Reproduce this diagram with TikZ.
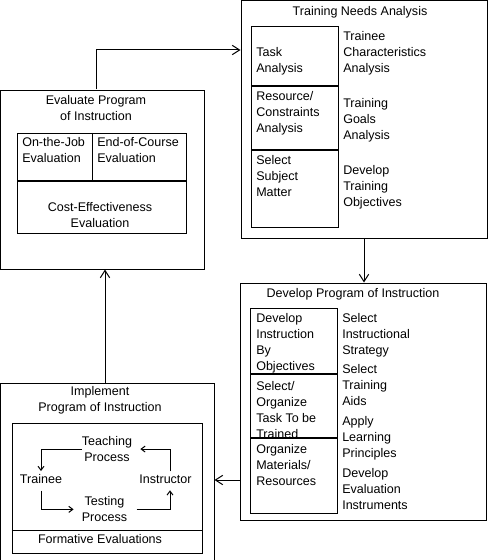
\documentclass[tikz,border=0pt]{standalone}
\usepackage{fontspec}
\setmainfont{Liberation Sans}
\usetikzlibrary{arrows.meta,fit,calc}
\begin{document}
\begin{tikzpicture}[x=0.75pt,y=-0.75pt,
  every node/.style={font=\fontsize{9.4}{12}\selectfont, inner sep=0pt},
  frame/.style={draw, line width=0.75pt, inner sep=0pt},
  txt/.style={align=left, anchor=north west},
  ctxt/.style={align=center, anchor=north},
  divider/.style={line width=1.5pt},
  thin/.style={line width=0.75pt},
  barr/.style={line width=0.75pt, -{Straight Barb[length=5.5pt,width=7pt]}},
  sarr/.style={line width=0.75pt, -{Straight Barb[length=3pt,width=4.5pt]}},
]
\useasboundingbox (0,0) rectangle (488,560);
\fill[white] (0,0) rectangle (488,560);

% ---------- Training Needs Analysis ----------
\node[frame, fit={(241,1) (487,238)}] (tna) {};
\node[ctxt] (tnat) at (360,6.5) {Training Needs Analysis};
\node[frame, fit={(251.3,26.7) (338.3,227.7)}] (tcol) {};
\draw[divider] (tcol.west |- 0,86) -- (tcol.east |- 0,86);
\draw[divider] (tcol.west |- 0,149.7) -- (tcol.east |- 0,149.7);
\node[txt] (ta) at (256,47) {Task\\Analysis};
\node[txt] (rc) at (256,91.5) {Resource/\\Constraints\\Analysis};
\node[txt] (ssm) at (256,155) {Select\\Subject\\Matter};
\node[txt] (tca) at (343,31.2) {Trainee\\Characteristics\\Analysis};
\node[txt] (tga) at (343,98.2) {Training\\Goals\\Analysis};
\node[txt] (dto) at (343,165.5) {Develop\\Training\\Objectives};

% ---------- Evaluate Program of Instruction ----------
\node[frame, fit={(0.5,90) (204,269)}] (eval) {};
\node[ctxt] (evalt) at (96,95.5) {Evaluate Program\\of Instruction};
\node[frame, fit={(17.3,133.3) (186.7,233.3)}] (einner) {};
\draw[divider] (einner.west |- 0,180.7) -- (einner.east |- 0,180.7);
\draw[thin] (92.7,0 |- einner.north) -- (92.7,180.7);
\node[txt] (ojt) at (22,137.5) {On-the-Job\\Evaluation};
\node[txt] (eoc) at (97,137.5) {End-of-Course\\Evaluation};
\node[ctxt] (cee) at (100,202.5) {Cost-Effectiveness\\Evaluation};

% ---------- Develop Program of Instruction ----------
\node[frame, fit={(240,283) (486,520)}] (dev) {};
\node[ctxt] (devt) at (353,288.5) {Develop Program of Instruction};
\node[frame, fit={(250.7,308.3) (337,513)}] (dcol) {};
\draw[divider] (dcol.west |- 0,374.3) -- (dcol.east |- 0,374.3);
\draw[divider] (dcol.west |- 0,438.3) -- (dcol.east |- 0,438.3);
\node[txt] (dibo) at (256,313.2) {Develop\\Instruction\\By\\Objectives};
\node[txt] (sotr) at (256,381.5) {Select/\\Organize\\Task To be\\Trained};
\node[txt] (omr) at (256,443.8) {Organize\\Materials/\\Resources};
\node[txt] (sis) at (342,313.2) {Select\\Instructional\\Strategy};
\node[txt] (sta) at (342,363.8) {Select\\Training\\Aids};
\node[txt] (alp) at (342,416.2) {Apply\\Learning\\Principles};
\node[txt] (dei) at (342,468.2) {Develop\\Evaluation\\Instruments};

% ---------- Implement Program of Instruction ----------
\node[frame, fit={(0.5,383) (214,563)}] (impl) {};
\node[ctxt] (implt) at (100,386.5) {Implement\\Program of Instruction};
\node[frame, fit={(12,423) (202,553)}] (iinner) {};
\draw[thin] (iinner.west |- 0,530) -- (iinner.east |- 0,530);
\node (fe) at (100,539.3) {Formative Evaluations};
\node[ctxt] (teach) at (107,436.2) {Teaching\\Process};
\node (trainee) at (41,479) {Trainee};
\node (instr) at (165.5,479) {Instructor};
\node[ctxt] (test) at (104.5,496.5) {Testing\\Process};

% cycle arrows
\draw[sarr, shorten >=6pt] ($(instr.north)+(4.5,-3)$) |- (teach.east);
\draw[sarr, shorten >=2.3pt] (teach.west) -| (trainee.north);
\draw[sarr, shorten <=5pt, shorten >=6pt] (trainee.south) |- (test.west);
\draw[sarr, shorten <=7pt, shorten >=5pt] (test.east) -| ($(instr.south)+(4.5,0)$);

% main connectors
\coordinate (c1) at (96,50);
\coordinate (c3) at (0,480);
\coordinate (c4) at (105,0);
\draw[barr] (eval.north -| c1) |- (tna.west |- c1);
\draw[barr] (tna.south) -- (tna.south |- dev.north);
\draw[barr] (dev.west |- c3) -- (impl.east |- c3);
\draw[barr] (impl.north -| c4) -- (eval.south -| c4);
\end{tikzpicture}
\end{document}
